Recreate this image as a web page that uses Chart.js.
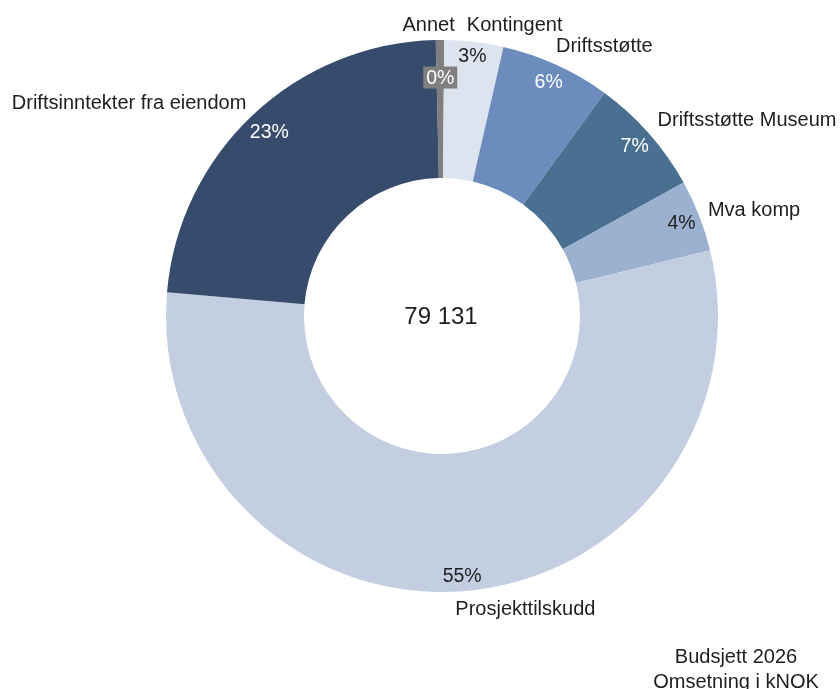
<!DOCTYPE html>
<html>
<head>
<meta charset="utf-8">
<script src="https://cdn.jsdelivr.net/npm/chart.js@4/dist/chart.umd.min.js"></script>
<style>
  html, body { margin: 0; padding: 0; background: #ffffff; }
  #wrap { width: 840px; height: 689px; position: relative; }
</style>
</head>
<body>
<div id="wrap"><canvas id="c" width="840" height="689"></canvas></div>
<script>
// ---- Data (kNOK, Budsjett 2026) ----
const categories = ['Annet', 'Kontingent', 'Driftsstøtte', 'Driftsstøtte Museum', 'Mva komp', 'Prosjekttilskudd', 'Driftsinntekter fra eiendom'];
const values = [385, 2730, 5100, 5500, 3320, 43680, 18416];
const colors = ['#7f7f7f', '#dde4ef', '#6b8cbc', '#4a7091', '#9cb0cf', '#c3cee1', '#374c6d'];
const pctTextColors = ['#ffffff', '#1e1e1e', '#ffffff', '#ffffff', '#1e1e1e', '#1e1e1e', '#ffffff'];
const footnoteLines = ['Budsjett 2026', 'Omsetning i kNOK'];

// ---- Label layout (relative to each slice's own geometry) ----
const pctRadiusFactor = [0.864, 0.951, 0.933, 0.931, 0.932, 0.944, 0.914];
const nameOffsets = [[-11.4, -9.3], [40.6, -11.2], [48, -12.7], [98, -7], [55, 0.2], [62, 23.8], [-124, -6.2]];

const total = values.reduce((a, b) => a + b, 0);
const fmtTotal = String(total).replace(/\B(?=(\d{3})+(?!\d))/g, ' ');
const FONT = '"Liberation Sans", Arial, sans-serif';

const labelsPlugin = {
  id: 'doughnutLabels',
  afterDatasetsDraw(chart) {
    const ctx = chart.ctx;
    const meta = chart.getDatasetMeta(0);
    ctx.save();
    meta.data.forEach((arc, i) => {
      const p = arc.getProps(['x', 'y', 'startAngle', 'endAngle', 'outerRadius', 'innerRadius'], true);
      const mid = (p.startAngle + p.endAngle) / 2;
      // percentage label
      const pct = Math.round(values[i] / total * 100) + '%';
      const rp = p.outerRadius * pctRadiusFactor[i];
      const px = p.x + Math.cos(mid) * rp;
      const py = p.y + Math.sin(mid) * rp;
      ctx.font = '19.5px ' + FONT;
      ctx.textAlign = 'center';
      ctx.textBaseline = 'middle';
      if (i === 0) {
        ctx.fillStyle = '#7f7f7f';
        ctx.fillRect(px - 17, py - 11, 34, 22);
      }
      ctx.fillStyle = pctTextColors[i];
      ctx.fillText(pct, px, py + 1);
      // category name
      const ax = p.x + Math.cos(mid) * p.outerRadius;
      const ay = p.y + Math.sin(mid) * p.outerRadius;
      ctx.font = '20px ' + FONT;
      ctx.fillStyle = '#1e1e1e';
      ctx.textAlign = 'center';
      ctx.textBaseline = 'alphabetic';
      ctx.fillText(categories[i], ax + nameOffsets[i][0], ay + nameOffsets[i][1]);
    });
    // center total
    const a0 = meta.data[0];
    ctx.font = '24px ' + FONT;
    ctx.fillStyle = '#1e1e1e';
    ctx.textAlign = 'center';
    ctx.textBaseline = 'alphabetic';
    ctx.fillText(fmtTotal, a0.x - 1, a0.y + 7.5);
    // footnote
    ctx.font = '20px ' + FONT;
    ctx.fillText(footnoteLines[0], 736, 662.7);
    ctx.fillText(footnoteLines[1], 736, 687.7);
    ctx.restore();
  }
};

new Chart(document.getElementById('c'), {
  type: 'doughnut',
  data: {
    labels: categories,
    datasets: [{
      data: values,
      backgroundColor: colors,
      borderWidth: 0,
      hoverOffset: 0
    }]
  },
  options: {
    responsive: false,
    devicePixelRatio: 1,
    animation: false,
    rotation: -1.3,
    cutout: '50%',
    layout: { padding: { left: 166, right: 122, top: 40, bottom: 97 } },
    plugins: {
      legend: { display: false },
      tooltip: { enabled: false }
    }
  },
  plugins: [labelsPlugin]
});
</script>
</body>
</html>
